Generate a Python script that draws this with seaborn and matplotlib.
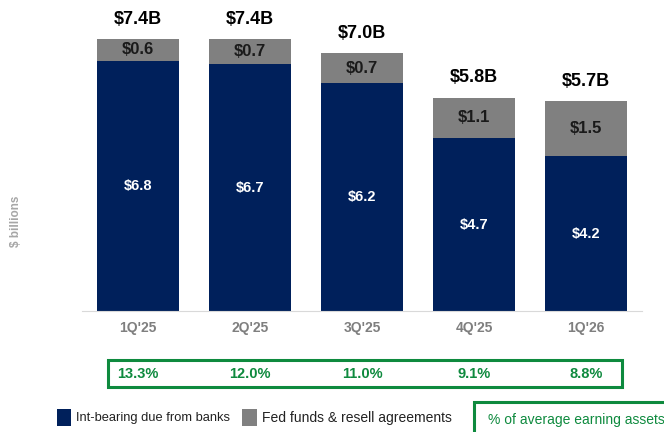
import pandas as pd
import numpy as np
import matplotlib.pyplot as plt
import matplotlib.patches as mpatches
import matplotlib.transforms as mtransforms
import seaborn as sns

# chart data
quarters = ["1Q'25", "2Q'25", "3Q'25", "4Q'25", "1Q'26"]
int_bearing = [6.8, 6.7, 6.2, 4.7, 4.2]
fed_funds = [0.6, 0.7, 0.7, 1.1, 1.5]
totals = [7.4, 7.4, 7.0, 5.8, 5.7]
pct_earning = ["13.3%", "12.0%", "11.0%", "9.1%", "8.8%"]

navy = '#00205B'
grey = '#808080'
green = '#0E8A3E'

sns.set_style('white')
plt.rcParams['font.family'] = ['Liberation Sans', 'DejaVu Sans']

df = pd.DataFrame({'quarter': quarters, 'int': int_bearing,
                   'fed': fed_funds, 'total': totals})

fig = plt.figure(figsize=(6.64, 4.32), dpi=100)
ax = fig.add_axes([82 / 664, 121 / 432, 560 / 664, 311 / 432])

# stacked look: totals in grey behind, interest-bearing in navy in front
sns.barplot(data=df, x='quarter', y='total', color=grey, saturation=1,
            width=0.73, linewidth=0, edgecolor='none', ax=ax)
sns.barplot(data=df, x='quarter', y='int', color=navy, saturation=1,
            width=0.73, linewidth=0, edgecolor='none', ax=ax)

ax.set_ylim(0, 8.45)
ax.set_xlim(-0.5, 4.5)
sns.despine(ax=ax, left=True, top=True, right=True, bottom=False)
ax.spines['bottom'].set_color('#d9d9d9')
ax.spines['bottom'].set_linewidth(0.8)
ax.set_yticks([])
ax.set_xlabel('')
ax.set_ylabel('')
ax.tick_params(axis='x', length=0, pad=7)
for lbl in ax.get_xticklabels():
    lbl.set_fontweight('bold')
    lbl.set_color('#7f7f7f')
    lbl.set_fontsize(10)

fig.text(16 / 664, 1 - 221 / 432, '$ billions', rotation=90, ha='center',
         va='center', fontsize=8.5, color='#a6a6a6', fontweight='bold')

for i in range(len(quarters)):
    ax.text(i, int_bearing[i] / 2, f'${int_bearing[i]:.1f}', ha='center',
            va='center', color='white', fontsize=10.5, fontweight='bold')
    ax.text(i, (int_bearing[i] + totals[i]) / 2, f'${fed_funds[i]:.1f}',
            ha='center', va='center', color='#1a1a1a', fontsize=12,
            fontweight='bold')
    ax.text(i, totals[i] + 0.3, f'${totals[i]:.1f}B', ha='center',
            va='bottom', color='black', fontsize=13, fontweight='bold')

# percent of average earning assets row
trans = mtransforms.blended_transform_factory(ax.transData, fig.transFigure)
fig.patches.append(mpatches.Rectangle((108 / 664, 1 - 387 / 432),
                                      514 / 664, 27 / 432,
                                      transform=fig.transFigure, fill=False,
                                      edgecolor=green, linewidth=2.2))
for i, p in enumerate(pct_earning):
    ax.text(i, 1 - 374 / 432, p, transform=trans, ha='center', va='center',
            color=green, fontsize=10.5, fontweight='bold')

# legend
fig.patches.append(mpatches.Rectangle((57 / 664, 1 - 426 / 432), 14 / 664,
                                      17 / 432, transform=fig.transFigure,
                                      facecolor=navy, edgecolor='none'))
fig.text(76 / 664, 1 - 418 / 432, 'Int-bearing due from banks', fontsize=9.3,
         va='center', color='#222222')
fig.patches.append(mpatches.Rectangle((242 / 664, 1 - 426 / 432), 15 / 664,
                                      17 / 432, transform=fig.transFigure,
                                      facecolor=grey, edgecolor='none'))
fig.text(262 / 664, 1 - 418 / 432, 'Fed funds & resell agreements',
         fontsize=10, va='center', color='#222222')
fig.patches.append(mpatches.Rectangle((474 / 664, 1 - 440 / 432), 200 / 664,
                                      38 / 432, transform=fig.transFigure,
                                      fill=False, edgecolor=green,
                                      linewidth=2.2, clip_on=False))
fig.text(488 / 664, 1 - 420 / 432, '% of average earning assets',
         fontsize=10, va='center', color=green)

fig.savefig('out.png', dpi=100)
